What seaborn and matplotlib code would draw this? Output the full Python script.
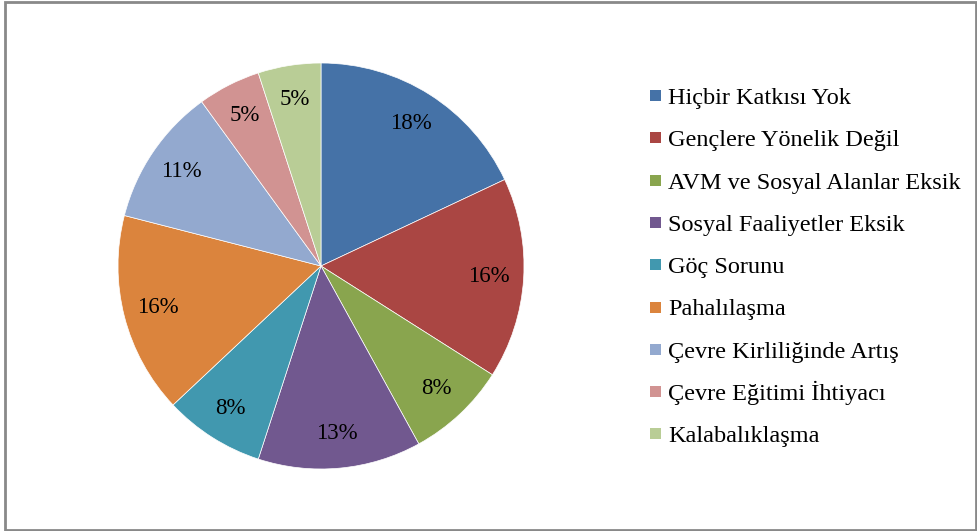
import matplotlib
matplotlib.use("Agg")
import matplotlib.pyplot as plt
from matplotlib.patches import Rectangle
import seaborn as sns

categories = ["Hiçbir Katkısı Yok", "Gençlere Yönelik Değil", "AVM ve Sosyal Alanlar Eksik",
              "Sosyal Faaliyetler Eksik", "Göç Sorunu", "Pahalılaşma",
              "Çevre Kirliliğinde Artış", "Çevre Eğitimi İhtiyacı", "Kalabalıklaşma"]
values = [18, 16, 8, 13, 8, 16, 11, 5, 5]
colors = ["#4572A7", "#AA4643", "#89A54E", "#71588F", "#4198AF",
          "#DB843D", "#93A9CF", "#D19392", "#B9CD96"]

sns.set_theme(style="white")
plt.rcParams["font.family"] = ["Liberation Serif", "DejaVu Serif"]

palette = sns.color_palette(colors)

W, H = 977, 531
fig = plt.figure(figsize=(W / 100, H / 100), dpi=100)
fig.patch.set_facecolor("white")

cx, cy, r = 321, 266, 203
ax = fig.add_axes([(cx - r) / W, (H - cy - r) / H, 2 * r / W, 2 * r / H])
wedges, texts, autotexts = ax.pie(
    values, colors=palette, startangle=90, counterclock=False,
    autopct=lambda p: f"{p:.0f}%", pctdistance=0.83,
    wedgeprops=dict(edgecolor="white", linewidth=0.5),
    textprops=dict(fontsize=16.5, color="black"),
)
ax.set_xlim(-1, 1)
ax.set_ylim(-1, 1)
ax.set_aspect("auto")
ax.axis("off")

# legend (Excel-style), laid out row by row
row0, step, box = 95.5, 42.3, 11
for i, (lab, col) in enumerate(zip(categories, palette)):
    yc = row0 + step * i
    fig.patches.append(Rectangle((650 / W, (H - yc - box / 2) / H), box / W, box / H,
                                 transform=fig.transFigure, facecolor=col, edgecolor="none"))
    fig.text(668 / W, (H - yc - 8.5) / H, lab, fontsize=17.5, color="black",
             ha="left", va="baseline")

fig.patches.append(Rectangle((5 / W, 1 / H), 971 / W, 528 / H, transform=fig.transFigure,
                             fill=False, edgecolor="#898989", linewidth=2))

fig.savefig("out.png", dpi=100)
